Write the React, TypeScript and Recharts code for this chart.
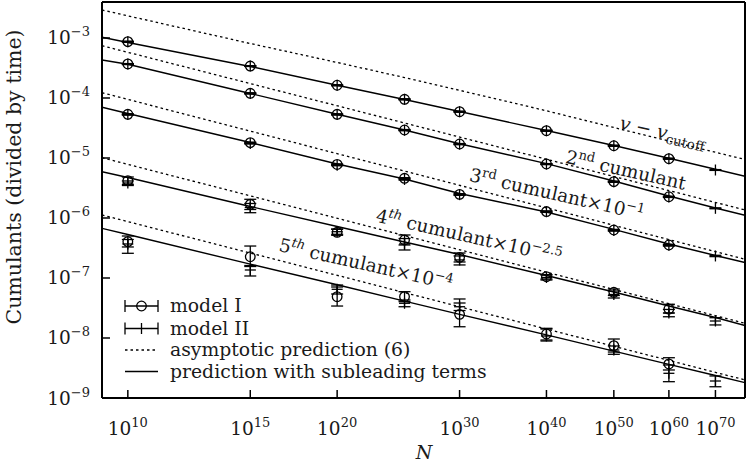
import React from 'react'
import { ComposedChart, Line, Scatter, XAxis, YAxis, ErrorBar } from 'recharts'

// x is the exponent n of N = 10^n, drawn on a log axis (log log N)
const lineN = [9.18, 10, 15, 20, 25, 30, 40, 50, 60, 70, 77.2]
const edgeN = [9.18, 77.2]
const nModelI = [10, 15, 20, 25, 30, 40, 50, 60]
const nModelII = [10, 15, 20, 25, 30, 40, 50, 60, 70]
const xTicks = [10, 15, 20, 30, 40, 50, 60, 70]
const yTicks = [1e-3, 1e-4, 1e-5, 1e-6, 1e-7, 1e-8, 1e-9]
const xDomain = [9.18, 77.2]
const yDomain = [1e-9, 3.98e-3]

// v - v_cutoff
const velI = [8.68e-4, 3.41e-4, 1.63e-4, 9.51e-5, 5.91e-5, 2.85e-5, 1.6e-5, 9.73e-6]
const velIErr = [1.2e-5, 5e-6, 2.5e-6, 1.5e-6, 9e-7, 4.5e-7, 2.5e-7, 1.5e-7]
const velII = [8.68e-4, 3.41e-4, 1.63e-4, 9.51e-5, 5.91e-5, 2.85e-5, 1.6e-5, 9.73e-6, 6.31e-6]
const velIIErr = [1.2e-5, 5e-6, 2.5e-6, 1.5e-6, 9e-7, 4.5e-7, 2.5e-7, 1.5e-7, 1e-7]
const velFull = [1.027e-3, 8.41e-4, 3.35e-4, 1.634e-4, 9.44e-5, 5.96e-5, 2.87e-5, 1.615e-5, 9.89e-6, 6.48e-6, 4.95e-6]
const velAsym = [2.93e-3, 2.34e-3, 8.09e-4, 3.91e-4, 2.19e-4, 1.344e-4, 6.12e-5, 3.22e-5, 1.92e-5, 1.245e-5, 9.44e-6]

// 2nd cumulant
const c2I = [3.69e-4, 1.197e-4, 5.35e-5, 2.93e-5, 1.71e-5, 7.94e-6, 4.03e-6, 2.26e-6]
const c2IErr = [6e-6, 2e-6, 9e-7, 5e-7, 3e-7, 1.3e-7, 7e-8, 4e-8]
const c2II = [3.67e-4, 1.19e-4, 5.3e-5, 2.9e-5, 1.7e-5, 7.9e-6, 4.0e-6, 2.24e-6, 1.45e-6]
const c2IIErr = [6e-6, 2e-6, 9e-7, 5e-7, 3e-7, 1.3e-7, 7e-8, 4e-8, 2.5e-8]
const c2Full = [4.3e-4, 3.65e-4, 1.189e-4, 5.37e-5, 2.93e-5, 1.73e-5, 8.04e-6, 4.14e-6, 2.33e-6, 1.468e-6, 1.113e-6]
const c2Asym = [7.44e-4, 1.36e-6]

// 3rd cumulant x 10^-1
const c3I = [5.35e-5, 1.8e-5, 7.8e-6, 4.59e-6, 2.48e-6, 1.28e-6, 6.31e-7, 3.55e-7]
const c3IErr = [1e-6, 4e-7, 1.8e-7, 1.1e-7, 6e-8, 3e-8, 1.5e-8, 9e-9]
const c3II = [5.3e-5, 1.75e-5, 7.6e-6, 4.39e-6, 2.45e-6, 1.27e-6, 6.2e-7, 3.5e-7, 2.33e-7]
const c3IIErr = [1e-6, 4e-7, 1.8e-7, 1.1e-7, 6e-8, 3e-8, 1.5e-8, 9e-9, 6e-9]
const c3Full = [7.0e-5, 5.52e-5, 1.81e-5, 7.94e-6, 4.47e-6, 2.56e-6, 1.259e-6, 6.48e-7, 3.69e-7, 2.37e-7, 1.81e-7]
const c3Asym = [1.225e-4, 2.05e-7]

// 4th cumulant x 10^-2.5
const c4I = [4.19e-6, 1.69e-6, 5.78e-7, 4.3e-7, 2.21e-7, 1.05e-7, 5.78e-8, 3.04e-8]
const c4ILo = [3.62e-6, 1.386e-6, 5.15e-7, 3.55e-7, 1.85e-7, 9.62e-8, 5.11e-8, 2.61e-8]
const c4IHi = [4.82e-6, 2.05e-6, 6.48e-7, 5.21e-7, 2.61e-7, 1.14e-7, 6.55e-8, 3.65e-8]
const c4II = [3.83e-6, 1.5e-6, 5.91e-7, 3.69e-7, 2.0e-7, 1.02e-7, 5.31e-8, 2.61e-8, 1.92e-8]
const c4IILo = [3.48e-6, 1.225e-6, 5.35e-7, 2.93e-7, 1.65e-7, 9.26e-8, 4.64e-8, 2.26e-8, 1.65e-8]
const c4IIHi = [4.14e-6, 1.745e-6, 6.55e-7, 4.55e-7, 2.33e-7, 1.12e-7, 6.07e-8, 2.99e-8, 2.18e-8]
const c4Full = [5.91e-6, 4.73e-6, 1.555e-6, 7.22e-7, 3.98e-7, 2.46e-7, 1.1e-7, 5.84e-8, 3.41e-8, 2.2e-8, 1.615e-8]
const c4Asym = [1.012e-5, 1.76e-8]

// 5th cumulant x 10^-4
const c5I = [4.03e-7, 2.26e-7, 4.88e-8, 4.88e-8, 2.48e-8, 1.166e-8, 7.44e-9, 3.69e-9]
const c5ILo = [3.29e-7, 1.555e-7, 3.41e-8, 4.03e-8, 1.54e-8, 9.26e-9, 5.84e-9, 2.93e-9]
const c5IHi = [5.01e-7, 3.41e-7, 7.08e-8, 5.91e-8, 4.47e-8, 1.41e-8, 9.62e-9, 4.69e-9]
const c5II = [3.69e-7, 1.36e-7, 6.48e-8, 3.79e-8, 3.32e-8, 1.08e-8, 6.31e-9, 2.58e-9, 1.92e-9]
const c5IILo = [2.58e-7, 1.08e-7, 5.41e-8, 3.32e-8, 2.87e-8, 8.91e-9, 5.35e-9, 1.87e-9, 1.54e-9]
const c5IIHi = [4.38e-7, 1.615e-7, 7.64e-8, 4.3e-8, 3.83e-8, 1.45e-8, 7.36e-9, 3.55e-9, 2.33e-9]
const c5Full = [6.73e-7, 5.31e-7, 1.7e-7, 7.73e-8, 4.12e-8, 2.48e-8, 1.126e-8, 6.03e-9, 3.63e-9, 2.37e-9, 1.8e-9]
const c5Asym = [1.122e-6, 2.0e-9]

const FONT = "'DejaVu Serif', serif"
const INK = '#1a1a1a'

const symPts = (ns: number[], vs: number[], es: number[]) =>
  ns.map((n, i) => ({ n, v: vs[i], e: [es[i], es[i]] }))
const boundPts = (ns: number[], vs: number[], lo: number[], hi: number[]) =>
  ns.map((n, i) => ({ n, v: vs[i], e: [vs[i] - lo[i], hi[i] - vs[i]] }))
const curve = (ns: number[], vs: number[]) => ns.map((n, i) => ({ n, v: vs[i] }))

const series = [
  { key: 'vel', ptsI: symPts(nModelI, velI, velIErr), ptsII: symPts(nModelII, velII, velIIErr), full: curve(lineN, velFull), asym: curve(lineN, velAsym) },
  { key: 'c2', ptsI: symPts(nModelI, c2I, c2IErr), ptsII: symPts(nModelII, c2II, c2IIErr), full: curve(lineN, c2Full), asym: curve(edgeN, c2Asym) },
  { key: 'c3', ptsI: symPts(nModelI, c3I, c3IErr), ptsII: symPts(nModelII, c3II, c3IIErr), full: curve(lineN, c3Full), asym: curve(edgeN, c3Asym) },
  { key: 'c4', ptsI: boundPts(nModelI, c4I, c4ILo, c4IHi), ptsII: boundPts(nModelII, c4II, c4IILo, c4IIHi), full: curve(lineN, c4Full), asym: curve(edgeN, c4Asym) },
  { key: 'c5', ptsI: boundPts(nModelI, c5I, c5ILo, c5IHi), ptsII: boundPts(nModelII, c5II, c5IILo, c5IIHi), full: curve(lineN, c5Full), asym: curve(edgeN, c5Asym) },
]

const ring = (p: any) => (
  <circle cx={p.cx} cy={p.cy} r={4.8} fill="none" stroke="#000" strokeWidth={1.3} />
)
const cross = (p: any) => (
  <g stroke="#000" strokeWidth={1.3}>
    <line x1={p.cx - 5.5} x2={p.cx + 5.5} y1={p.cy} y2={p.cy} />
    <line x1={p.cx} x2={p.cx} y1={p.cy - 5.5} y2={p.cy + 5.5} />
  </g>
)

const XTick = (props: any) => {
  const { x, y, payload } = props
  return (
    <text x={x} y={y} textAnchor="middle" fontFamily={FONT} fontSize={18.5} fill={INK}>
      <tspan>10</tspan>
      <tspan dy={-8} fontSize={13}>{payload.value}</tspan>
    </text>
  )
}

const YTick = (props: any) => {
  const { x, y, payload } = props
  const exp = Math.round(Math.log10(payload.value))
  return (
    <text x={x} y={y + 6.5} textAnchor="end" fontFamily={FONT} fontSize={18.5} fill={INK}>
      <tspan>10</tspan>
      <tspan dy={-8} fontSize={13}>{'\u2212' + Math.abs(exp)}</tspan>
    </text>
  )
}

const Sup = ({ children }: { children: React.ReactNode }) => (
  <tspan dy={-7} fontSize={13}>{children}</tspan>
)
const Down = ({ children }: { children: React.ReactNode }) => (
  <tspan dy={7}>{children}</tspan>
)

const Note = ({ x, y, children }: { x: number; y: number; children: React.ReactNode }) => (
  <text transform={`translate(${x},${y}) rotate(12.7)`} textAnchor="middle" dy="0.35em" fontSize={18.5}>
    {children}
  </text>
)

const axisLine = { stroke: '#000', strokeWidth: 2 }
const tickLine = { stroke: '#000', strokeWidth: 1.5 }

export default function App() {
  return (
    <div style={{ position: 'absolute', left: 0, top: 0, width: 747, height: 464, background: '#fff' }}>
      <ComposedChart width={747} height={464} margin={{ top: 0, right: 0, bottom: 0, left: 0 }}>
        <XAxis xAxisId="b" dataKey="n" type="number" scale="log" domain={xDomain} allowDataOverflow
          ticks={xTicks} interval={0} height={66} tickSize={-8} tickMargin={45}
          axisLine={axisLine} tickLine={tickLine} tick={<XTick />} />
        <XAxis xAxisId="t" orientation="top" dataKey="n" type="number" scale="log" domain={xDomain} allowDataOverflow
          ticks={xTicks} interval={0} height={2} tickSize={-8} axisLine={axisLine} tickLine={tickLine} tick={false} />
        <YAxis yAxisId="l" type="number" scale="log" domain={yDomain} allowDataOverflow
          ticks={yTicks} interval={0} width={102} tickSize={-8} tickMargin={20}
          axisLine={axisLine} tickLine={tickLine} tick={<YTick />} />
        <YAxis yAxisId="r" orientation="right" type="number" scale="log" domain={yDomain} allowDataOverflow
          ticks={yTicks} interval={0} width={2} tickSize={-8} axisLine={axisLine} tickLine={tickLine} tick={false} />

        {series.map(s => (
          <Line key={s.key + '-asym'} data={s.asym} dataKey="v" xAxisId="b" yAxisId="l" type="linear"
            stroke="#000" strokeWidth={1.3} strokeDasharray="2.5 3" dot={false} activeDot={false} isAnimationActive={false} />
        ))}
        {series.map(s => (
          <Line key={s.key + '-full'} data={s.full} dataKey="v" xAxisId="b" yAxisId="l" type="linear"
            stroke="#000" strokeWidth={1.4} dot={false} activeDot={false} isAnimationActive={false} />
        ))}
        {series.map(s => (
          <Scatter key={s.key + '-I'} data={s.ptsI} dataKey="v" xAxisId="b" yAxisId="l" shape={ring} isAnimationActive={false}>
            <ErrorBar dataKey="e" direction="y" width={6} stroke="#000" strokeWidth={1.3} isAnimationActive={false} />
          </Scatter>
        ))}
        {series.map(s => (
          <Scatter key={s.key + '-II'} data={s.ptsII} dataKey="v" xAxisId="b" yAxisId="l" shape={cross} isAnimationActive={false}>
            <ErrorBar dataKey="e" direction="y" width={6} stroke="#000" strokeWidth={1.3} isAnimationActive={false} />
          </Scatter>
        ))}
      </ComposedChart>

      <svg width={747} height={464} style={{ position: 'absolute', left: 0, top: 0, pointerEvents: 'none' }}
        fontFamily={FONT} fill={INK}>
        <text transform="translate(14,177) rotate(-90)" textAnchor="middle" dy="0.35em" fontSize={20.5}>
          Cumulants (divided by time)
        </text>
        <text x={424} y={459} textAnchor="middle" fontStyle="italic" fontSize={19}>N</text>

        {/* legend */}
        <g stroke="#000" strokeWidth={1.3} fill="none">
          <line x1={125} x2={158} y1={306} y2={306} />
          <line x1={125} x2={125} y1={300} y2={312} />
          <line x1={158} x2={158} y1={300} y2={312} />
          <circle cx={141.5} cy={306} r={4.8} />
          <line x1={125} x2={158} y1={328.5} y2={328.5} />
          <line x1={125} x2={125} y1={322.5} y2={334.5} />
          <line x1={158} x2={158} y1={322.5} y2={334.5} />
          <line x1={141.5} x2={141.5} y1={323} y2={334} />
          <line x1={125} x2={158} y1={350} y2={350} strokeDasharray="2.5 3" />
          <line x1={125} x2={158} y1={371.5} y2={371.5} strokeWidth={1.4} />
        </g>
        <g fontSize={18.8}>
          <text x={170} y={312}>model I</text>
          <text x={170} y={334.5}>model II</text>
          <text x={170} y={356}>asymptotic prediction (6)</text>
          <text x={170} y={377.5}>prediction with subleading terms</text>
        </g>

        {/* curve labels */}
        <Note x={663} y={132}>
          <tspan fontStyle="italic">v</tspan>{' \u2212 '}<tspan fontStyle="italic">v</tspan>
          <tspan dy={4} fontSize={13.5}>cutoff</tspan>
        </Note>
        <Note x={626} y={170}>
          2<Sup>nd</Sup><Down>{' cumulant'}</Down>
        </Note>
        <Note x={557} y={194}>
          3<Sup>rd</Sup><Down>{' cumulant\u00d710'}</Down><Sup>{'\u22121'}</Sup>
        </Note>
        <Note x={469} y={236}>
          4<Sup><tspan fontStyle="italic">th</tspan></Sup><Down>{' cumulant\u00d710'}</Down><Sup>{'\u22122.5'}</Sup>
        </Note>
        <Note x={366} y={264}>
          5<Sup><tspan fontStyle="italic">th</tspan></Sup><Down>{' cumulant\u00d710'}</Down><Sup>{'\u22124'}</Sup>
        </Note>
      </svg>
    </div>
  )
}
